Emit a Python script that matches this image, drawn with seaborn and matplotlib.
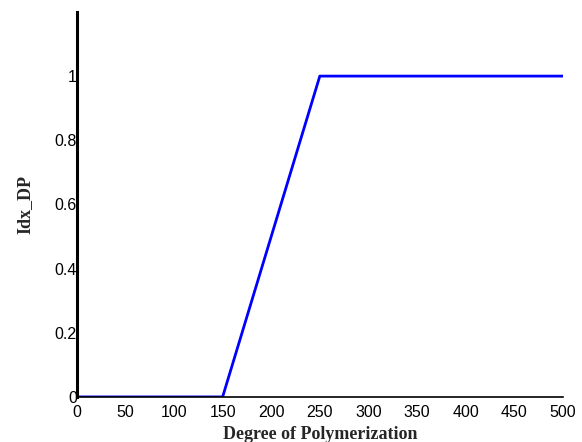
import matplotlib
matplotlib.use('Agg')
import matplotlib.pyplot as plt
import seaborn as sns
import pandas as pd

# Index of degree of polymerization
dp = [0, 150, 250, 500]
idx_dp = [0, 0, 1, 1]

sns.set_style('white')
plt.rcParams['font.family'] = ['Liberation Sans', 'DejaVu Sans']

df = pd.DataFrame({'DP': dp, 'Idx_DP': idx_dp})

fig = plt.figure(figsize=(5.82, 4.42), dpi=100)
ax = fig.add_axes([0.132, 0.102, 0.835, 0.871])
sns.lineplot(data=df, x='DP', y='Idx_DP', color='#0000ff', linewidth=2, ax=ax)

ax.set_xlim(0, 500)
ax.set_ylim(0, 1.2)
ax.set_xticks(range(0, 501, 50))
ax.set_yticks([0, 0.2, 0.4, 0.6, 0.8, 1])
ax.set_yticklabels(['0', '0.2', '0.4', '0.6', '0.8', '1'])
ax.tick_params(direction='in', length=4, labelsize=11.5, colors='black')
ax.tick_params(axis='x', pad=6)
ax.tick_params(axis='y', pad=0)

sns.despine(ax=ax)
ax.spines['left'].set_linewidth(2.2)
ax.spines['bottom'].set_linewidth(1.2)
ax.spines['left'].set_color('black')
ax.spines['bottom'].set_color('black')

ax.set_xlabel('Degree of Polymerization', family='Liberation Serif',
              fontweight='bold', fontsize=13, labelpad=4)
ax.set_ylabel('Idx_DP', family='Liberation Serif', fontweight='bold',
              fontsize=13, labelpad=15)

fig.savefig('out.png', dpi=100)
